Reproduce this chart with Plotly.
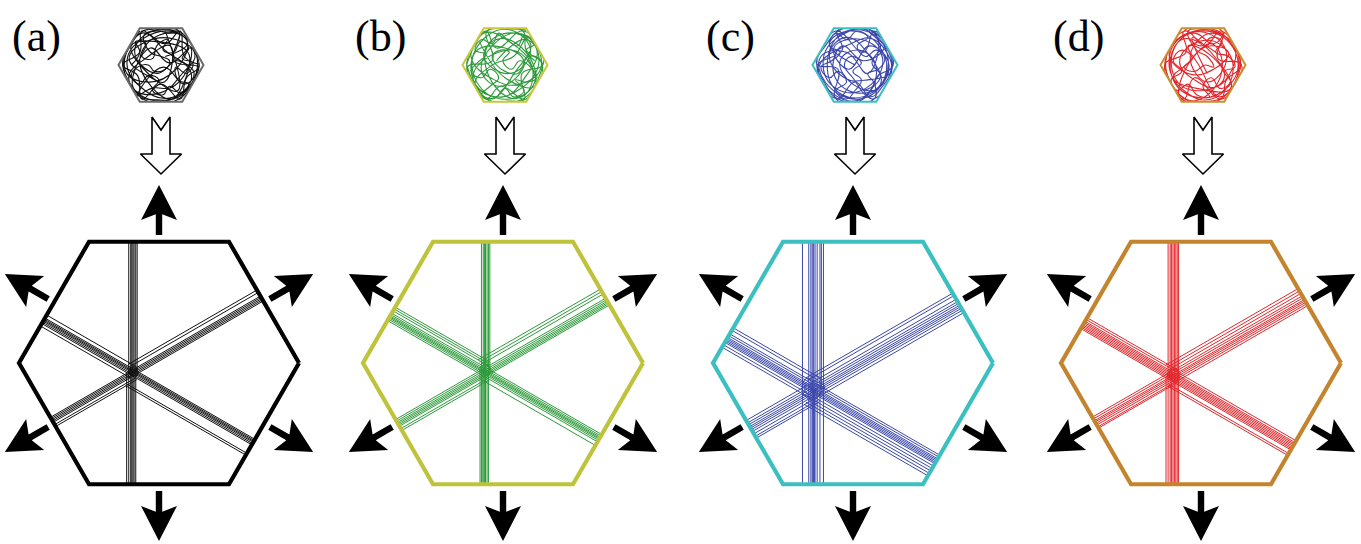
import math
import plotly.graph_objects as go

# ---------------------------------------------------------------- data
PANEL_LABELS = ["(a)", "(b)", "(c)", "(d)"]
EDGE_COLORS = ["#000000", "#bec33b", "#3cbfc0", "#c4842e"]
LINE_COLORS = ["#111111", "#2e9a3b", "#3b47aa", "#e2262b"]
SMALL_EDGE_COLORS = ["#6a6a6a", "#c9c83a", "#3cbfc0", "#c8902e"]

# attractor position inside the unit hexagon (circumradius = 1)
KNOT_X = [-0.186, -0.129, -0.286, -0.200]
KNOT_Y = [-0.071, -0.064, -0.193, -0.100]

# straight trajectory segments: (direction in degrees, perpendicular offset, span)
# span 0 = full chord, +1 = ray along the direction, -1 = ray against it
LINES_A = [
    (90, -0.030, 0), (90, -0.016, 0), (90, -0.008, 0), (90, 0.000, 0), (90, 0.008, 0), (90, 0.020, 0),
    (90, 0.030, 1), (90, -0.045, -1),
    (150, -0.020, 0), (150, -0.010, 0), (150, 0.000, 0), (150, 0.008, 0), (150, 0.016, 0), (150, 0.025, 0),
    (150, -0.090, -1), (150, -0.105, -1), (150, 0.050, 1), (150, -0.040, 1),
    (30, -0.020, 0), (30, -0.010, 0), (30, 0.000, 0), (30, 0.010, 0), (30, 0.020, 0),
    (30, -0.050, 1), (30, -0.070, 1), (30, 0.040, -1), (30, 0.055, -1),
]
LINES_B = [
    (90, -0.025, 0), (90, -0.012, 0), (90, -0.004, 0), (90, 0.004, 0), (90, 0.015, 0), (90, 0.025, 0),
    (90, 0.035, 1), (90, -0.035, -1), (90, -0.020, -1),
    (150, -0.030, 0), (150, -0.018, 0), (150, -0.008, 0), (150, 0.000, 0), (150, 0.008, 0),
    (150, 0.018, 0), (150, 0.030, 0),
    (150, 0.050, 1), (150, 0.065, 1), (150, 0.080, 1), (150, -0.060, -1),
    (30, -0.025, 0), (30, -0.012, 0), (30, 0.000, 0), (30, 0.010, 0), (30, 0.020, 0), (30, 0.030, 0),
    (30, -0.060, 1), (30, -0.080, 1), (30, -0.100, 1), (30, 0.050, -1), (30, 0.065, -1),
]
LINES_C = [
    (90, -0.075, 0), (90, -0.030, 0), (90, -0.015, 0), (90, -0.005, 0), (90, 0.005, 0), (90, 0.015, 0),
    (90, 0.030, 0), (90, 0.050, 0), (90, 0.075, 0),
    (90, 0.000, -1), (90, 0.010, -1), (90, 0.060, 1),
    (150, -0.060, 0), (150, -0.040, 0), (150, -0.020, 0), (150, -0.010, 0), (150, 0.000, 0),
    (150, 0.010, 0), (150, 0.020, 0), (150, 0.035, 0), (150, 0.050, 0),
    (150, 0.080, 1), (150, 0.100, 1), (150, -0.080, -1), (150, -0.100, -1), (150, -0.120, -1),
    (30, -0.050, 0), (30, -0.030, 0), (30, -0.015, 0), (30, 0.000, 0), (30, 0.012, 0),
    (30, 0.025, 0), (30, 0.040, 0), (30, 0.060, 0),
    (30, -0.080, 1), (30, -0.100, 1), (30, 0.080, -1), (30, 0.095, -1),
]
LINES_D = [
    (90, -0.035, 0), (90, -0.020, 0), (90, -0.010, 0), (90, 0.000, 0), (90, 0.010, 0), (90, 0.020, 0),
    (90, 0.030, 0), (90, 0.040, 0), (90, -0.050, -1),
    (150, -0.030, 0), (150, -0.020, 0), (150, -0.010, 0), (150, 0.000, 0), (150, 0.010, 0),
    (150, 0.020, 0), (150, 0.030, 0), (150, 0.045, 0),
    (150, 0.060, 1), (150, -0.060, -1), (150, -0.075, -1),
    (30, -0.040, 0), (30, -0.025, 0), (30, -0.010, 0), (30, 0.000, 0), (30, 0.012, 0),
    (30, 0.025, 0), (30, 0.040, 0),
    (30, -0.060, 1), (30, -0.080, 1), (30, -0.100, 1), (30, 0.050, -1),
]
PANEL_LINES = [LINES_A, LINES_B, LINES_C, LINES_D]

# small loops where the trajectories cross (offsets from the attractor, unit hexagon)
KNOT_LOOP_A = [(0.0, 0.0), (0.03, 0.02), (0.01, 0.045), (-0.02, 0.02), (0.0, -0.02), (0.035, -0.01),
               (0.02, 0.03), (-0.015, 0.035), (-0.03, 0.0), (0.0, 0.01)]
KNOT_LOOP_B = [(0.0, 0.0), (0.035, 0.03), (0.015, 0.055), (-0.02, 0.03), (0.005, -0.025), (0.04, 0.0),
               (0.025, 0.04), (-0.02, 0.045), (-0.035, 0.005), (0.0, 0.015)]
KNOT_LOOP_C = [(0.0, 0.0), (0.06, 0.05), (0.03, 0.1), (-0.03, 0.07), (-0.06, 0.02), (-0.02, -0.05),
               (0.05, -0.03), (0.08, 0.03), (0.02, 0.06), (-0.05, 0.08), (-0.07, -0.02), (0.0, -0.07),
               (0.06, -0.01), (0.03, 0.04), (-0.03, 0.03), (0.0, 0.0)]
KNOT_LOOP_D = [(0.0, 0.0), (0.04, 0.03), (0.02, 0.06), (-0.025, 0.035), (0.0, -0.03), (0.045, -0.01),
               (0.03, 0.045), (-0.02, 0.05), (-0.04, 0.0), (0.0, 0.02)]
PANEL_KNOT_LOOPS = [KNOT_LOOP_A, KNOT_LOOP_B, KNOT_LOOP_C, KNOT_LOOP_D]

# wandering paths in the small hexagons (unit hexagon coordinates)
WANDER_A = [
    (0.10, 0.20), (0.62, 0.50), (0.30, 0.78), (-0.42, 0.62), (-0.80, 0.10), (-0.50, -0.50),
    (0.20, -0.78), (0.72, -0.30), (0.40, 0.10), (-0.10, -0.20), (-0.62, 0.30), (-0.20, 0.80),
    (0.50, 0.70), (0.86, 0.05), (0.45, -0.70), (-0.30, -0.80), (-0.76, -0.30), (-0.30, 0.20),
    (0.22, 0.45), (0.08, -0.40), (-0.40, -0.10), (-0.70, 0.45), (-0.10, 0.55), (0.66, 0.25),
    (0.30, -0.50), (-0.22, -0.55), (-0.55, -0.72), (0.05, -0.05), (0.55, -0.45), (0.78, -0.20),
    (0.15, 0.30), (-0.45, 0.75), (-0.85, -0.10), (-0.35, -0.40), (0.35, -0.10), (0.60, 0.60),
    (-0.05, 0.70), (-0.50, 0.05), (0.25, -0.80), (0.70, 0.40), (0.20, 0.05), (-0.25, 0.40),
    (-0.65, -0.55), (0.00, -0.65), (0.50, -0.20), (0.80, 0.25), (0.35, 0.60), (-0.35, 0.55),
    (-0.75, 0.15), (-0.15, -0.35), (0.40, -0.60), (0.10, 0.80),
]
WANDER_A2 = [
    (-0.70, 0.00), (-0.50, 0.30), (-0.60, 0.55), (-0.35, 0.50), (-0.45, 0.20), (-0.20, 0.15),
    (-0.10, 0.45), (0.15, 0.60), (0.05, 0.35), (0.30, 0.30), (0.45, 0.55), (0.65, 0.40),
    (0.50, 0.15), (0.75, 0.05), (0.60, -0.20), (0.35, -0.05), (0.40, -0.35), (0.65, -0.45),
    (0.45, -0.65), (0.20, -0.50), (0.05, -0.70), (-0.20, -0.60), (-0.05, -0.35), (-0.30, -0.25),
    (-0.50, -0.45), (-0.70, -0.25), (-0.55, -0.05), (-0.30, 0.00), (-0.15, -0.15), (0.10, -0.10),
    (0.20, 0.10), (0.00, 0.20), (-0.25, 0.30), (-0.40, 0.70), (-0.10, 0.80), (0.20, 0.75),
    (0.40, 0.80), (0.60, 0.65), (0.80, 0.30), (0.90, 0.00), (0.80, -0.30), (0.60, -0.60),
    (0.30, -0.80), (-0.10, -0.82), (-0.40, -0.78), (-0.65, -0.55), (-0.85, -0.20), (-0.90, 0.10),
    (-0.75, 0.40), (-0.50, 0.80),
]
WANDER_A3 = [
    (0.90, 0.02), (0.55, 0.20), (0.45, 0.80), (0.10, 0.50), (-0.45, 0.80), (-0.50, 0.30),
    (-0.90, 0.00), (-0.55, -0.25), (-0.45, -0.80), (0.00, -0.45), (0.45, -0.80), (0.60, -0.30),
    (0.88, -0.05), (0.30, 0.10), (0.42, 0.80), (-0.10, 0.82), (-0.42, 0.80), (-0.88, 0.05),
    (-0.42, -0.80), (0.42, -0.80), (0.90, 0.00),
]
WANDER_B = [
    (-0.20, 0.10), (0.50, 0.60), (0.80, 0.10), (0.30, -0.60), (-0.40, -0.70), (-0.80, -0.10),
    (-0.40, 0.70), (0.20, 0.80), (0.60, 0.30), (0.10, -0.20), (-0.50, 0.20), (-0.20, 0.60),
    (0.40, 0.40), (0.70, -0.40), (0.10, -0.80), (-0.60, -0.50), (-0.70, 0.30), (0.00, 0.40),
    (0.45, 0.05), (-0.10, -0.50), (-0.55, -0.15), (-0.30, 0.45), (0.30, 0.75), (0.75, 0.35),
    (0.50, -0.25), (-0.05, -0.75), (-0.70, -0.45), (-0.30, 0.00), (0.20, 0.20), (0.55, 0.65),
    (0.85, -0.05), (0.35, -0.45), (-0.25, -0.35), (-0.80, 0.20), (-0.50, 0.75), (0.10, 0.55),
    (0.65, -0.10), (0.40, -0.75), (-0.15, -0.60), (-0.45, 0.35), (0.05, 0.75), (0.60, 0.50),
    (0.25, -0.15), (-0.35, -0.80), (-0.75, -0.25), (-0.15, 0.30), (0.40, 0.25), (0.70, -0.50),
    (0.00, -0.30), (-0.60, 0.55),
]
WANDER_B2 = [
    (0.70, 0.10), (0.50, 0.35), (0.70, 0.50), (0.45, 0.70), (0.30, 0.45), (0.05, 0.60),
    (-0.15, 0.75), (-0.30, 0.50), (-0.55, 0.60), (-0.70, 0.35), (-0.45, 0.25), (-0.65, 0.05),
    (-0.80, -0.15), (-0.55, -0.30), (-0.35, -0.10), (-0.15, -0.30), (-0.35, -0.50), (-0.55, -0.70),
    (-0.25, -0.78), (0.00, -0.55), (0.20, -0.75), (0.45, -0.60), (0.25, -0.35), (0.50, -0.40),
    (0.75, -0.30), (0.60, -0.05), (0.35, 0.10), (0.15, -0.10), (-0.05, 0.10), (0.10, 0.30),
    (-0.10, 0.35), (-0.30, 0.20), (-0.20, 0.00), (0.00, -0.15), (0.30, -0.20), (0.55, 0.20),
    (0.85, 0.10), (0.75, -0.40), (0.50, -0.80), (0.10, -0.85), (-0.35, -0.85), (-0.75, -0.40),
    (-0.90, 0.00), (-0.70, 0.50), (-0.40, 0.82), (0.10, 0.85), (0.50, 0.82),
]
WANDER_B3 = [
    (-0.90, 0.02), (-0.45, 0.80), (-0.20, 0.40), (0.45, 0.80), (0.90, 0.02), (0.40, -0.20),
    (0.45, -0.80), (-0.10, -0.50), (-0.45, -0.80), (-0.88, -0.05), (-0.30, 0.10), (-0.42, 0.80),
    (0.42, 0.80), (0.50, 0.35), (0.88, 0.00), (0.42, -0.80), (-0.42, -0.80), (-0.90, 0.00),
]
WANDER_C = [
    (0.00, 0.00), (-0.60, 0.50), (-0.10, 0.80), (0.60, 0.40), (0.70, -0.30), (0.10, -0.80),
    (-0.70, -0.40), (-0.80, 0.20), (-0.20, 0.30), (0.30, -0.20), (0.50, 0.70), (-0.30, 0.75),
    (-0.65, -0.10), (-0.30, -0.70), (0.40, -0.65), (0.80, 0.00), (0.35, 0.45), (-0.15, -0.10),
    (-0.50, 0.40), (0.15, 0.60), (0.65, 0.15), (0.25, -0.55), (-0.45, -0.55), (-0.75, 0.10),
    (-0.40, 0.65), (0.25, 0.80), (0.75, 0.30), (0.55, -0.55), (-0.05, -0.45), (-0.35, 0.10),
    (0.10, 0.35), (0.50, -0.05), (0.15, -0.80), (-0.55, -0.65), (-0.85, -0.05), (-0.10, 0.50),
    (0.45, 0.60), (0.85, -0.15), (0.30, -0.35), (-0.25, -0.30), (-0.60, 0.25), (-0.20, 0.65),
    (0.35, 0.20), (0.60, -0.45), (0.00, -0.65), (-0.50, -0.20), (-0.30, 0.45), (0.20, 0.10),
    (0.70, 0.45), (0.40, 0.80),
]
WANDER_C2 = [
    (0.20, -0.60), (0.45, -0.45), (0.30, -0.20), (0.55, -0.10), (0.70, 0.15), (0.50, 0.35),
    (0.25, 0.20), (0.05, 0.45), (0.30, 0.65), (0.05, 0.80), (-0.20, 0.60), (-0.45, 0.75),
    (-0.60, 0.45), (-0.35, 0.30), (-0.55, 0.10), (-0.80, -0.05), (-0.60, -0.30), (-0.40, -0.15),
    (-0.20, -0.40), (-0.45, -0.60), (-0.20, -0.80), (0.00, -0.60), (0.15, -0.35), (-0.05, -0.15),
    (0.15, 0.05), (-0.10, 0.20), (-0.25, 0.00), (-0.05, -0.30), (0.35, -0.75), (0.65, -0.50),
    (0.85, -0.10), (0.80, 0.30), (0.55, 0.60), (0.20, 0.85), (-0.30, 0.85), (-0.70, 0.45),
    (-0.90, 0.05), (-0.70, -0.45), (-0.40, -0.80), (0.10, -0.85), (0.40, -0.55), (0.60, -0.25),
    (0.40, 0.05), (0.60, 0.45), (0.35, 0.75),
]
WANDER_C3 = [
    (0.45, 0.80), (0.20, 0.30), (-0.45, 0.80), (-0.90, 0.02), (-0.40, -0.10), (-0.45, -0.80),
    (0.45, -0.80), (0.50, -0.30), (0.90, 0.00), (0.42, 0.80), (-0.42, 0.80), (-0.30, 0.35),
    (-0.88, -0.03), (-0.42, -0.80), (0.00, -0.40), (0.42, -0.80), (0.88, 0.03), (0.45, 0.80),
]
WANDER_D = [
    (0.30, 0.30), (-0.50, 0.60), (-0.75, -0.20), (-0.20, -0.75), (0.60, -0.50), (0.80, 0.20),
    (0.20, 0.75), (-0.30, 0.20), (0.10, -0.40), (0.55, 0.10), (0.30, 0.65), (-0.45, 0.70),
    (-0.80, 0.05), (-0.45, -0.60), (0.20, -0.80), (0.70, -0.20), (0.45, 0.45), (-0.10, 0.55),
    (-0.55, 0.10), (-0.20, -0.35), (0.35, -0.50), (0.75, 0.40), (0.05, 0.80), (-0.65, 0.45),
    (-0.60, -0.40), (0.00, -0.60), (0.50, -0.30), (0.15, 0.25), (-0.35, 0.45), (-0.10, 0.00),
    (0.40, -0.75), (0.85, -0.05), (0.55, 0.65), (-0.20, 0.80), (-0.80, 0.30), (-0.35, -0.20),
    (0.25, -0.10), (0.60, 0.30), (0.00, 0.40), (-0.55, -0.75), (-0.05, -0.80), (0.45, -0.10),
    (0.20, 0.50), (-0.40, 0.00), (-0.70, -0.30), (-0.15, -0.55), (0.65, -0.55), (0.35, 0.10),
    (-0.25, 0.65), (0.10, -0.20),
]
WANDER_D2 = [
    (-0.30, 0.60), (-0.05, 0.45), (0.20, 0.65), (0.45, 0.55), (0.30, 0.30), (0.60, 0.20),
    (0.75, -0.05), (0.50, -0.15), (0.65, -0.40), (0.40, -0.55), (0.20, -0.30), (0.00, -0.50),
    (0.15, -0.75), (-0.15, -0.70), (-0.35, -0.45), (-0.60, -0.60), (-0.75, -0.35), (-0.50, -0.15),
    (-0.70, 0.10), (-0.50, 0.35), (-0.25, 0.15), (-0.45, -0.05), (-0.20, -0.15), (0.05, 0.00),
    (0.25, -0.05), (0.10, 0.20), (-0.15, 0.35), (-0.35, 0.80), (0.00, 0.85), (0.35, 0.80),
    (0.70, 0.45), (0.88, 0.10), (0.80, -0.30), (0.55, -0.70), (0.20, -0.85), (-0.25, -0.85),
    (-0.55, -0.70), (-0.85, -0.20), (-0.88, 0.15), (-0.65, 0.55), (-0.20, 0.75), (0.25, 0.50),
    (0.50, 0.75),
]
WANDER_D3 = [
    (-0.45, -0.80), (-0.20, -0.30), (0.45, -0.80), (0.90, 0.02), (0.35, 0.15), (0.45, 0.80),
    (-0.45, 0.80), (-0.40, 0.30), (-0.90, 0.00), (-0.42, -0.80), (0.42, -0.80), (0.55, -0.35),
    (0.88, -0.02), (0.42, 0.80), (0.05, 0.45), (-0.42, 0.80), (-0.88, 0.03), (-0.45, -0.80),
]
PANEL_WANDER = [[WANDER_A, WANDER_A2, WANDER_A3], [WANDER_B, WANDER_B2, WANDER_B3],
                [WANDER_C, WANDER_C2, WANDER_C3], [WANDER_D, WANDER_D2, WANDER_D3]]

# ---------------------------------------------------------------- layout (pixels)
W, H = 1361, 544
CX = [159, 503, 853, 1201]
BIG_Y, BIG_R = 363, 140
SMALL_DX, SMALL_Y, SMALL_R = 2, 65, 42.5

AP = math.cos(math.radians(30))
HEX_ANG = [0, 60, 120, 180, 240, 300, 0]
NORMALS = [(math.cos(math.radians(a)), math.sin(math.radians(a))) for a in (30, 90, 150, 210, 270, 330)]


def to_px(cx, cy, r, x, y):
    return cx + r * x, cy - r * y


def hex_outline(cx, cy, r):
    xs, ys = [], []
    for a in HEX_ANG:
        px, py = to_px(cx, cy, r, math.cos(math.radians(a)), math.sin(math.radians(a)))
        xs.append(px)
        ys.append(py)
    return xs, ys


def hex_path(cx, cy, r):
    xs, ys = hex_outline(cx, cy, r)
    return "M" + " L".join(f"{x:.2f},{y:.2f}" for x, y in zip(xs[:-1], ys[:-1])) + " Z"


def clip_to_hex(px, py, dx, dy):
    tmin, tmax = -10.0, 10.0
    for nx, ny in NORMALS:
        nd = nx * dx + ny * dy
        if abs(nd) < 1e-12:
            continue
        t = (AP - (nx * px + ny * py)) / nd
        if nd > 0:
            tmax = min(tmax, t)
        else:
            tmin = max(tmin, t)
    return tmin, tmax


def stealth_arrow(cx, cy, ang, s0, s1, head_len=35, half_w=18, notch=7, shaft=3.2):
    ux, uy = math.cos(math.radians(ang)), -math.sin(math.radians(ang))
    vx, vy = -uy, ux
    sb = s1 - head_len
    s_join = sb + notch * (1 - shaft / half_w)
    local = [(s0, -shaft), (s_join, -shaft), (sb, -half_w), (s1, 0),
             (sb, half_w), (s_join, shaft), (s0, shaft), (s0, -shaft)]
    xs = [cx + s * ux + w * vx for s, w in local]
    ys = [cy + s * uy + w * vy for s, w in local]
    return xs, ys


fig = go.Figure()
shapes = []

for k in range(4):
    cx = CX[k]
    # straight trajectories in the large hexagon
    lx, ly = [], []
    for ang, off, span in PANEL_LINES[k]:
        dx, dy = math.cos(math.radians(ang)), math.sin(math.radians(ang))
        nx, ny = dy, -dx
        px, py = KNOT_X[k] + off * nx, KNOT_Y[k] + off * ny
        t0, t1 = clip_to_hex(px, py, dx, dy)
        if span > 0:
            t0 = 0.0
        elif span < 0:
            t1 = 0.0
        for t in (t0, t1):
            X, Y = to_px(cx, BIG_Y, BIG_R, px + t * dx, py + t * dy)
            lx.append(X)
            ly.append(Y)
        lx.append(None)
        ly.append(None)
    fig.add_trace(go.Scatter(x=lx, y=ly, mode="lines",
                             line=dict(color=LINE_COLORS[k], width=1.0),
                             hoverinfo="skip", showlegend=False))

    # tangle at the crossing point
    kx, ky = [], []
    for x, y in PANEL_KNOT_LOOPS[k]:
        X, Y = to_px(cx, BIG_Y, BIG_R, KNOT_X[k] + x, KNOT_Y[k] + y)
        kx.append(X)
        ky.append(Y)
    fig.add_trace(go.Scatter(x=kx, y=ky, mode="lines",
                             line=dict(color=LINE_COLORS[k], width=1.0, shape="spline", smoothing=1.3),
                             hoverinfo="skip", showlegend=False))

    # large hexagon border
    hx, hy = hex_outline(cx, BIG_Y, BIG_R)
    fig.add_trace(go.Scatter(x=hx, y=hy, mode="lines",
                             line=dict(color=EDGE_COLORS[k], width=4.2),
                             hoverinfo="skip", showlegend=False))

    # outward arrows normal to each edge
    for ang in (90, 30, -30, -90, 150, 210):
        ax, ay = stealth_arrow(cx, BIG_Y, ang, 128, 178)
        fig.add_trace(go.Scatter(x=ax, y=ay, mode="lines", fill="toself",
                                 fillcolor="black", line=dict(width=0),
                                 hoverinfo="skip", showlegend=False))

    # small hexagon with wandering paths
    scx = cx + SMALL_DX
    for path in PANEL_WANDER[k]:
        wx, wy = [], []
        for x, y in path:
            X, Y = to_px(scx, SMALL_Y, SMALL_R, x, y)
            wx.append(X)
            wy.append(Y)
        fig.add_trace(go.Scatter(x=wx, y=wy, mode="lines",
                                 line=dict(color=LINE_COLORS[k], width=1.1, shape="spline", smoothing=1.3),
                                 hoverinfo="skip", showlegend=False))
    # white ring masking anything drawn outside the small hexagon, then its border
    shapes.append(dict(type="path", layer="above", fillrule="evenodd",
                       path=hex_path(scx, SMALL_Y, SMALL_R * 1.3) + " " + hex_path(scx, SMALL_Y, SMALL_R),
                       fillcolor="white", line=dict(width=0)))
    shapes.append(dict(type="path", layer="above", path=hex_path(scx, SMALL_Y, SMALL_R),
                       line=dict(color=SMALL_EDGE_COLORS[k], width=2.0)))

    # hollow block arrow
    hol = [(-9, 117), (0, 130), (9, 117), (9, 154), (20.5, 154), (0, 174),
           (-20.5, 154), (-9, 154), (-9, 117)]
    fig.add_trace(go.Scatter(x=[scx + a for a, _ in hol], y=[b for _, b in hol],
                             mode="lines", fill="toself", fillcolor="white",
                             line=dict(color="black", width=1.6),
                             hoverinfo="skip", showlegend=False))

    fig.add_annotation(x=cx - 123, y=36, text=PANEL_LABELS[k], showarrow=False,
                       font=dict(family="Liberation Serif", size=44, color="black"),
                       xanchor="center", yanchor="middle")

fig.update_layout(
    width=W, height=H,
    margin=dict(l=0, r=0, t=0, b=0),
    paper_bgcolor="white", plot_bgcolor="white",
    shapes=shapes,
    xaxis=dict(range=[0, W], visible=False, fixedrange=True),
    yaxis=dict(range=[H, 0], visible=False, fixedrange=True),
)

fig.write_html("out.html")
